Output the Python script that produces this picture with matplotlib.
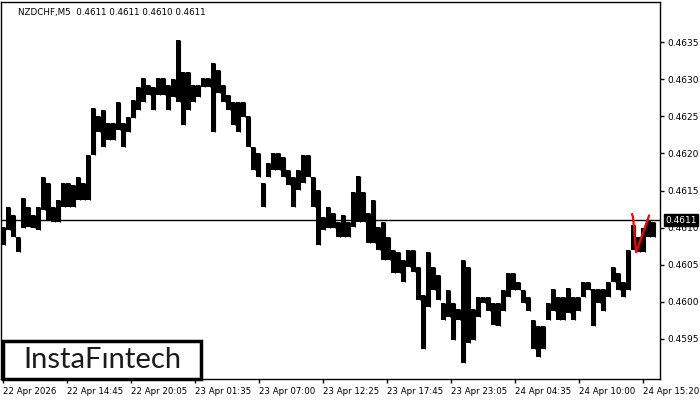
import numpy as np
import matplotlib
matplotlib.use("Agg")
import matplotlib.pyplot as plt
from matplotlib.patches import Rectangle

# ---------------------------
# data: NZDCHF M5, each group = 5 bars (high / low)
# ---------------------------
group_size = 5
highs = [0.46101, 0.46128, 0.46117, 0.46088, 0.46140, 0.46128, 0.46117, 0.46128, 0.46168, 0.46160,
         0.46128, 0.46137, 0.46160, 0.46160, 0.46157, 0.46168, 0.46160, 0.46198, 0.46261, 0.46251,
         0.46258, 0.46241, 0.46241, 0.46269, 0.46241, 0.46249, 0.46272, 0.46289, 0.46302, 0.46292,
         0.46289, 0.46302, 0.46302, 0.46292, 0.46300, 0.46353, 0.46310, 0.46310, 0.46292, 0.46292,
         0.46302, 0.46302, 0.46322, 0.46312, 0.46292, 0.46279, 0.46269, 0.46269, 0.46269, 0.46251,
         0.46208, 0.46201, 0.46160, 0.46187, 0.46201, 0.46201, 0.46195, 0.46178, 0.46168, 0.46178,
         0.46198, 0.46198, 0.46168, 0.46151, 0.46114, 0.46128, 0.46120, 0.46107, 0.46117, 0.46107,
         0.46148, 0.46170, 0.46148, 0.46120, 0.46137, 0.46101, 0.46107, 0.46088, 0.46070, 0.46067,
         0.46057, 0.46070, 0.46070, 0.46047, 0.46009, 0.46067, 0.46047, 0.46036, 0.45998, 0.46016,
         0.45999, 0.45990, 0.46057, 0.46047, 0.45990, 0.46007, 0.46007, 0.46007, 0.45998, 0.45998,
         0.46016, 0.46039, 0.46039, 0.46027, 0.46016, 0.46007, 0.45976, 0.45967, 0.45967, 0.45998,
         0.46017, 0.46007, 0.46007, 0.46019, 0.46007, 0.46007, 0.46027, 0.46027, 0.46017, 0.46017,
         0.46017, 0.46027, 0.46047, 0.46039, 0.46027, 0.46070, 0.46103, 0.46088, 0.46100, 0.46110,
         0.46107]
lows = [0.46077, 0.46097, 0.46088, 0.46067, 0.46100, 0.46101, 0.46100, 0.46097, 0.46124, 0.46110,
        0.46107, 0.46107, 0.46128, 0.46128, 0.46128, 0.46137, 0.46137, 0.46137, 0.46198, 0.46229,
        0.46208, 0.46218, 0.46218, 0.46232, 0.46208, 0.46229, 0.46248, 0.46258, 0.46269, 0.46279,
        0.46258, 0.46279, 0.46279, 0.46258, 0.46276, 0.46269, 0.46238, 0.46258, 0.46269, 0.46276,
        0.46289, 0.46289, 0.46229, 0.46281, 0.46269, 0.46258, 0.46238, 0.46229, 0.46249, 0.46208,
        0.46178, 0.46168, 0.46128, 0.46168, 0.46178, 0.46178, 0.46168, 0.46157, 0.46128, 0.46151,
        0.46160, 0.46168, 0.46128, 0.46077, 0.46097, 0.46100, 0.46100, 0.46088, 0.46088, 0.46088,
        0.46101, 0.46107, 0.46107, 0.46079, 0.46079, 0.46070, 0.46057, 0.46057, 0.46039, 0.46039,
        0.46027, 0.46047, 0.46040, 0.46002, 0.45936, 0.45993, 0.46016, 0.46002, 0.45976, 0.45980,
        0.45949, 0.45976, 0.45918, 0.45945, 0.45949, 0.45980, 0.45998, 0.45987, 0.45969, 0.45967,
        0.45987, 0.46007, 0.46016, 0.46016, 0.45998, 0.45987, 0.45936, 0.45926, 0.45936, 0.45976,
        0.45987, 0.45976, 0.45976, 0.45985, 0.45976, 0.45987, 0.46007, 0.46016, 0.45967, 0.45998,
        0.45987, 0.46007, 0.46027, 0.46016, 0.46007, 0.46016, 0.46070, 0.46067, 0.46067, 0.46088,
        0.46088]

last_price = 0.4611
title_text = "NZDCHF,M5  0.4611 0.4611 0.4610 0.4611"

# pattern (bar index, price)
pattern_x = [632, 633, 636, 649]
pattern_y = [0.46118, 0.46114, 0.46067, 0.46116]

time_labels = ["22 Apr 2026", "22 Apr 14:45", "22 Apr 20:05", "23 Apr 01:35", "23 Apr 07:00",
               "23 Apr 12:25", "23 Apr 17:45", "23 Apr 23:05", "24 Apr 04:35", "24 Apr 10:00",
               "24 Apr 15:20"]
time_ticks = [3 + 64 * i for i in range(len(time_labels))]
price_ticks = [0.4595, 0.4600, 0.4605, 0.4610, 0.4615, 0.4620, 0.4625, 0.4630, 0.4635]

# ---------------------------
# figure
# ---------------------------
fig = plt.figure(figsize=(7, 4), dpi=100)
ax = fig.add_axes([1 / 700, 21 / 400, 659 / 700, 377 / 400])
ax.set_xlim(1, 660)
ax.set_ylim(0.45896, 0.46404)

x = np.arange(len(highs)) * group_size
h = np.array(highs)
l = np.array(lows)
ax.bar(x + 0.5, h - l, bottom=l, width=group_size - 1, align="edge", color="black", linewidth=0)
ax.vlines(x + group_size, l, h, color="black", linewidth=0.8)

ax.axhline(last_price, color="black", linewidth=1)
ax.plot(pattern_x, pattern_y, color="red", linewidth=1.6)

for s in ax.spines.values():
    s.set_linewidth(1)
    s.set_color("black")

ax.yaxis.tick_right()
ax.set_yticks(price_ticks)
ax.set_yticklabels([f"{p:.4f}" for p in price_ticks])
ax.set_xticks(time_ticks)
ax.set_xticklabels(time_labels, ha="left")
ax.tick_params(axis="both", labelsize=6.5, length=3, width=1, pad=2, color="black")
ax.tick_params(axis="x", pad=3, labelsize=6.2)

ax.text(18, 0.46404 - 10 * 0.0000135, title_text, fontsize=6.3, va="center", ha="left")

# current price label
ax.annotate(f"{last_price:.4f}", xy=(1.0, last_price), xycoords=("axes fraction", "data"),
            xytext=(4, 0), textcoords="offset points", fontsize=6.5, color="white",
            va="center", ha="left",
            bbox=dict(boxstyle="square,pad=0.15", fc="black", ec="black"))

# logo
fig.patches.append(Rectangle((3 / 700, 21 / 400), 198 / 700, 38 / 400, transform=fig.transFigure,
                             fc="white", ec="black", linewidth=2.5, zorder=5))
fig.text(102 / 700, 40 / 400, "InstaF\u0131ntech", fontsize=21, family="Lato",
         ha="center", va="center", color="#1a1a1a", zorder=6)

fig.savefig("out.png", dpi=100)
